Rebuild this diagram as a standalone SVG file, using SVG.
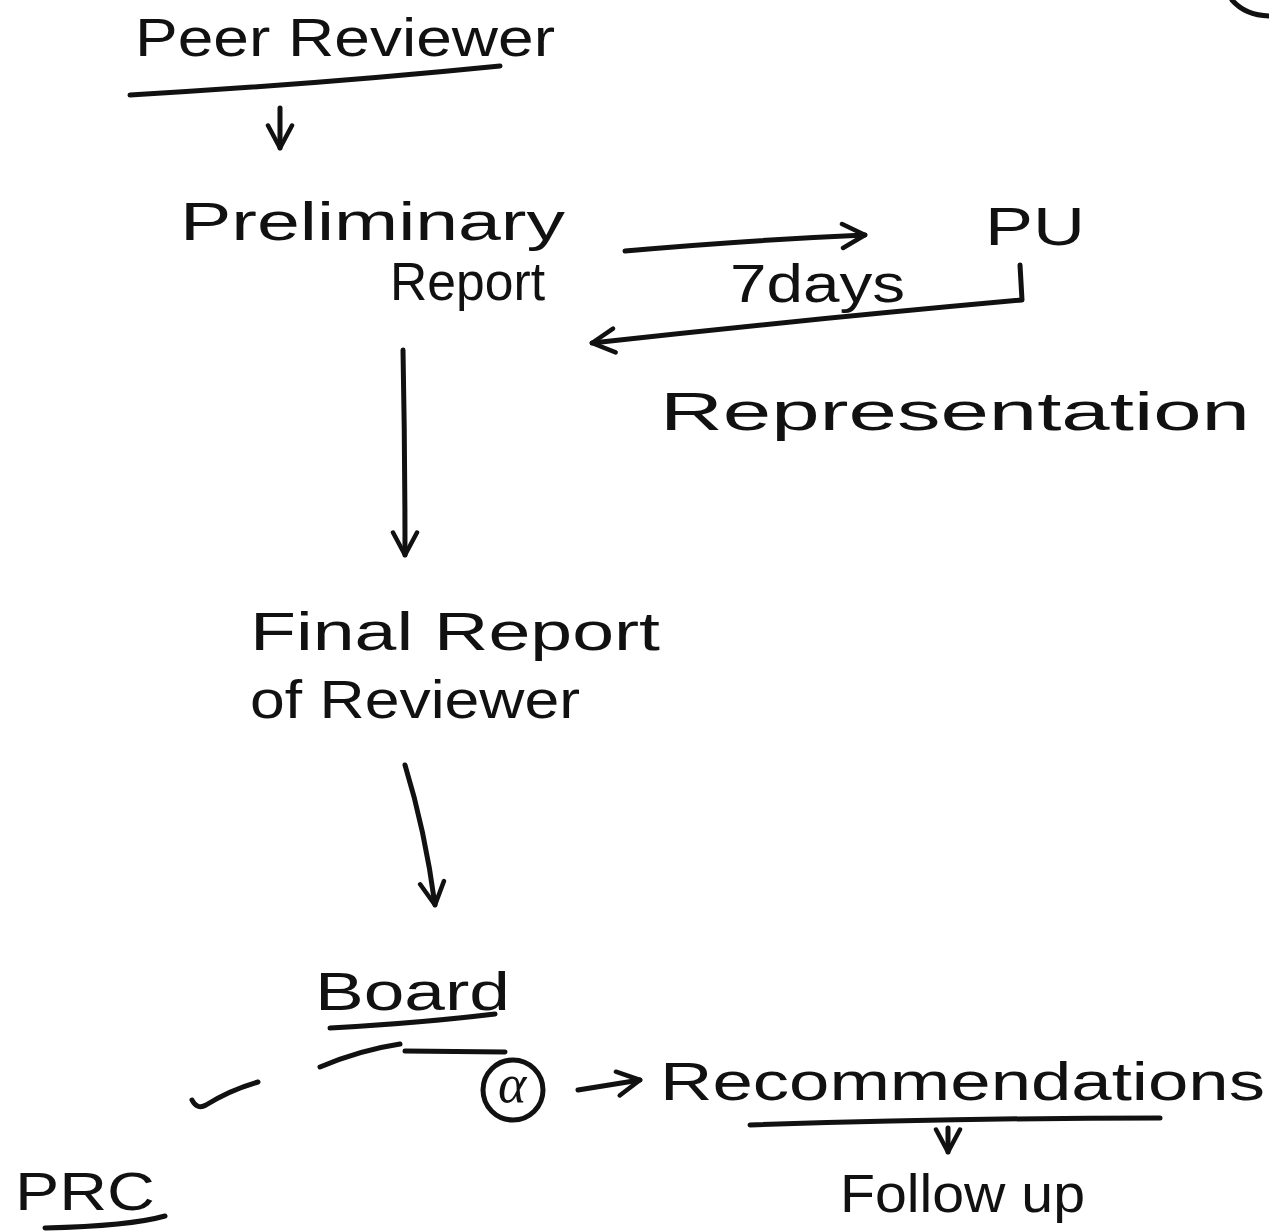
<svg xmlns="http://www.w3.org/2000/svg" width="1269" height="1232" viewBox="0 0 1269 1232">
<style>
text{font-family:"Liberation Sans","Open Sans",sans-serif;fill:#111;font-size:54px}
.s{fill:none;stroke:#111;stroke-width:5;stroke-linecap:round;stroke-linejoin:round}
</style>
<defs>
<marker id="ah" viewBox="0 0 20 20" refX="18" refY="10" markerWidth="30" markerHeight="30" markerUnits="userSpaceOnUse" orient="auto">
<path d="M3,2 L18,10 L3,18" fill="none" stroke="#111" stroke-width="3" stroke-linecap="round" stroke-linejoin="round"/>
</marker>
</defs>
<rect width="1269" height="1232" fill="#fff"/>
<path class="s" d="M1232,0 Q1245,15 1269,16"/>
<g id="peer-reviewer">
<text x="135" y="56" font-size="50" textLength="420" lengthAdjust="spacingAndGlyphs">Peer Reviewer</text>
<path class="s" d="M130,95 Q320,84 500,66"/>
</g>
<g id="preliminary-report">
<text x="180" y="240" textLength="385" lengthAdjust="spacingAndGlyphs">Preliminary</text>
<text x="390" y="300" font-size="48" textLength="155" lengthAdjust="spacingAndGlyphs">Report</text>
</g>
<g id="pu">
<text x="985" y="245" font-size="48" textLength="100" lengthAdjust="spacingAndGlyphs">PU</text>
</g>
<g id="final-report">
<text x="250" y="650" font-size="56" textLength="410" lengthAdjust="spacingAndGlyphs">Final Report</text>
<text x="250" y="718" font-size="52" textLength="330" lengthAdjust="spacingAndGlyphs">of Reviewer</text>
</g>
<g id="board">
<text x="315" y="1010" font-size="52" textLength="195" lengthAdjust="spacingAndGlyphs">Board</text>
<path class="s" d="M330,1028 Q420,1023 495,1014"/>
<path class="s" d="M320,1067 Q360,1050 400,1044"/>
<path class="s" d="M405,1051 L505,1052"/>
<circle class="s" cx="513" cy="1090" r="30"/>
<text x="498" y="1102" font-size="40" style="font-family:'Liberation Serif',serif;font-style:italic">α</text>
<path class="s" d="M192,1100 Q197,1110 206,1105 Q230,1090 258,1082"/>
</g>
<g id="recommendations">
<text x="660" y="1100" textLength="605" lengthAdjust="spacingAndGlyphs">Recommendations</text>
<path class="s" d="M750,1125 Q960,1118 1160,1118"/>
</g>
<g id="follow-up">
<text x="840" y="1212" font-size="48" textLength="245" lengthAdjust="spacingAndGlyphs">Follow up</text>
</g>
<g id="prc">
<text x="15" y="1210" font-size="52" textLength="140" lengthAdjust="spacingAndGlyphs">PRC</text>
<path class="s" d="M45,1228 Q130,1226 165,1216"/>
</g>
<g id="connectors">
<path class="s" d="M280,108 L280,148" marker-end="url(#ah)"/>
<path class="s" d="M625,251 Q750,240 865,235" marker-end="url(#ah)"/>
<text x="730" y="302" font-size="46" textLength="175" lengthAdjust="spacingAndGlyphs">7days</text>
<path class="s" d="M1020,265 L1022,300 Q800,320 592,343" marker-end="url(#ah)"/>
<text x="660" y="430" font-size="56" textLength="590" lengthAdjust="spacingAndGlyphs">Representation</text>
<path class="s" d="M403,350 Q405,450 405,555" marker-end="url(#ah)"/>
<path class="s" d="M405,765 Q425,830 435,905" marker-end="url(#ah)"/>
<path class="s" d="M578,1090 L640,1080" marker-end="url(#ah)"/>
<path class="s" d="M948,1128 L948,1152" marker-end="url(#ah)"/>
</g>
</svg>
